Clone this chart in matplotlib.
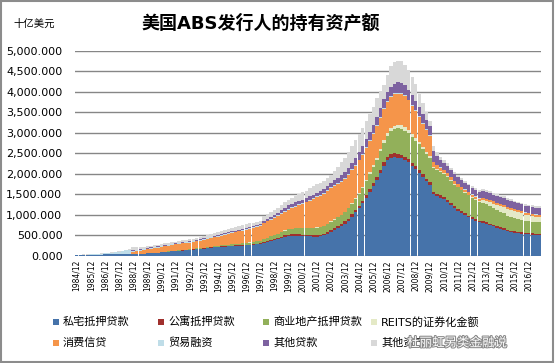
import numpy as np
import matplotlib
matplotlib.use('Agg')
import matplotlib.pyplot as plt
import matplotlib.patheffects as pe
from matplotlib.patches import Rectangle

plt.rcParams['font.family'] = ['DejaVu Sans', 'Noto Sans CJK SC']

# quarterly, 1984Q4 .. 2017Q3, 十亿美元
home = [25,
        26, 27, 28, 30,  31, 32, 33, 35,  35, 36, 36, 37,  38, 38, 39, 42,
        45, 50, 55, 60,  66, 72, 78, 85,  93, 102, 111, 120,  126, 132, 138, 144,
        150, 160, 170, 180,  190, 200, 210, 215,  220, 225, 230, 235,  240, 245, 250, 255,
        260, 270, 280, 290,  320, 345, 370, 390,  410, 440, 470, 490,  495, 495, 490, 485,
        480, 475, 470, 470,  480, 500, 540, 590,  630, 680, 730, 790,  860, 960, 1060, 1160,
        1280, 1420, 1560, 1700,  1850, 2020, 2200, 2330,  2400, 2420, 2400, 2380,
        2340, 2280, 2200, 2130,  2030, 1920, 1820, 1730,  1500, 1460, 1420, 1380,
        1320, 1240, 1160, 1100,  1040, 990, 940, 900,  860, 820, 800, 780,
        750, 720, 690, 660,  640, 600, 580, 565,  555, 545, 535, 525,  520, 515, 512]
multi = [0,
         0, 0, 0, 0,  0, 0, 0, 0,  0, 0, 0, 0,  0, 0, 0, 0,
         0, 0, 0, 0,  0, 0, 1, 1,  2, 3, 4, 5,  6, 6, 7, 8,
         8, 9, 9, 10,  10, 11, 11, 12,  13, 13, 14, 15,  16, 16, 17, 18,
         18, 19, 19, 20,  21, 22, 24, 25,  26, 27, 29, 30,  31, 32, 34, 35,
         36, 37, 39, 40,  41, 42, 44, 45,  46, 47, 49, 50,  52, 55, 57, 60,
         63, 66, 70, 73,  76, 78, 80, 80,  81, 82, 82, 80,
         79, 78, 76, 74,  72, 70, 68, 66,  60, 58, 56, 55,
         54, 52, 51, 50,  48, 47, 45, 44,  43, 42, 41, 40,
         39, 38, 37, 36,  35, 34, 33, 32,  31, 30, 29, 28,  28, 27, 27]
comm = [0,
        0, 0, 0, 0,  0, 0, 0, 0,  0, 0, 0, 0,  0, 0, 0, 0,
        0, 0, 0, 0,  0, 0, 1, 1,  2, 3, 4, 5,  6, 7, 9, 10,
        11, 12, 14, 15,  16, 17, 19, 20,  22, 25, 27, 30,  33, 37, 41, 45,
        49, 52, 56, 60,  68, 75, 83, 90,  100, 110, 120, 130,  138, 145, 152, 160,
        165, 170, 175, 180,  185, 190, 195, 200,  207, 215, 222, 230,  245, 262, 280, 300,
        320, 345, 370, 400,  420, 450, 485, 520,  560, 600, 630, 640,
        640, 630, 620, 610,  620, 610, 600, 600,  590, 580, 570, 560,
        550, 540, 530, 520,  510, 500, 490, 480,  470, 460, 450, 440,
        420, 400, 385, 370,  360, 350, 340, 330,  320, 310, 300, 295,  290, 285, 280]
reit = [0,
        0, 0, 0, 0,  0, 0, 0, 0,  0, 0, 0, 0,  0, 0, 0, 0,
        0, 0, 0, 0,  0, 0, 0, 0,  0, 0, 0, 0,  0, 0, 0, 0,
        0, 0, 0, 0,  1, 1, 2, 2,  2, 2, 3, 3,  3, 3, 3, 3,
        3, 3, 3, 3,  3, 3, 3, 3,  3, 3, 3, 3,  3, 3, 3, 3,
        4, 4, 5, 5,  6, 6, 7, 8,  8, 9, 9, 10,  12, 15, 18, 22,
        28, 33, 38, 42,  48, 55, 60, 65,  70, 75, 80, 85,
        80, 75, 70, 65,  60, 55, 50, 45,  30, 28, 26, 25,
        24, 23, 22, 22,  21, 20, 20, 20,  20, 25, 70, 80,
        100, 120, 130, 140,  150, 155, 160, 160,  155, 150, 145, 140,  135, 130, 125]
cons = [0,
        0, 0, 0, 0,  0, 0, 0, 0,  0, 0, 0, 0,  0, 0, 0, 65,
        70, 80, 90, 100,  108, 115, 122, 130,  135, 140, 145, 150,  154, 158, 161, 165,
        170, 175, 180, 185,  193, 202, 211, 220,  232, 245, 257, 270,  282, 295, 307, 320,
        327, 335, 342, 350,  380, 395, 408, 420,  432, 445, 457, 470,  500, 530, 560, 590,
        620, 660, 700, 740,  760, 780, 800, 810,  810, 810, 800, 800,  800, 800, 790, 790,
        780, 780, 770, 770,  770, 770, 770, 770,  770, 770, 770, 770,
        760, 730, 690, 650,  610, 570, 530, 490,  110, 90, 80, 70,
        70, 68, 65, 62,  60, 58, 56, 54,  52, 50, 50, 50,
        50, 50, 50, 50,  50, 50, 50, 50,  50, 50, 50, 50,  50, 50, 50]
trade = [0,
         0, 2, 3, 5,  8, 12, 18, 25,  35, 45, 58, 70,  82, 95, 108, 25,
         22, 20, 20, 20,  20, 20, 20, 20,  20, 20, 20, 20,  20, 20, 20, 20,
         20, 20, 20, 20,  20, 20, 20, 20,  20, 20, 20, 20,  20, 20, 20, 20,
         20, 20, 20, 20,  20, 20, 20, 20,  20, 20, 20, 20,  20, 20, 20, 20,
         20, 20, 20, 20,  20, 20, 20, 20,  20, 20, 20, 20,  20, 20, 20, 20,
         20, 20, 20, 20,  20, 20, 20, 20,  20, 20, 20, 20,
         20, 20, 20, 20,  20, 20, 20, 20,  10, 10, 10, 10,
         10, 10, 10, 10,  10, 10, 10, 10,  10, 10, 10, 10,
         10, 10, 10, 10,  10, 10, 10, 10,  10, 10, 10, 10,  10, 10, 10]
other_loans = [0,
               0, 0, 0, 0,  0, 0, 0, 0,  0, 0, 0, 0,  0, 0, 0, 10,
               10, 12, 14, 15,  12, 10, 10, 10,  10, 10, 10, 10,  11, 11, 12, 12,
               13, 14, 14, 15,  16, 17, 19, 20,  21, 22, 24, 25,  26, 27, 29, 30,
               30, 30, 30, 30,  40, 45, 48, 50,  60, 70, 80, 90,  85, 82, 80, 80,
               82, 85, 88, 90,  95, 100, 105, 110,  120, 130, 140, 150,  158, 165, 172, 180,
               185, 190, 195, 200,  205, 210, 215, 220,  230, 240, 250, 250,
               250, 245, 240, 235,  230, 225, 220, 215,  260, 200, 180, 170,
               170, 165, 165, 165,  162, 160, 160, 160,  160, 160, 160, 160,
               160, 160, 160, 160,  160, 160, 160, 160,  160, 160, 160, 160,  160, 160, 160]
other_assets = [8,
                8, 8, 9, 9,  9, 10, 10, 10,  10, 10, 10, 10,  10, 10, 10, 70,
                65, 55, 50, 45,  45, 45, 42, 42,  42, 40, 40, 40,  42, 44, 46, 48,
                50, 52, 55, 58,  60, 62, 64, 66,  68, 70, 72, 74,  76, 78, 80, 82,
                84, 86, 88, 90,  115, 118, 120, 122,  125, 128, 130, 135,  145, 155, 165, 175,
                185, 195, 200, 205,  200, 195, 190, 200,  230, 270, 310, 350,  380, 400, 420, 440,
                440, 440, 430, 440,  470, 420, 350, 420,  500, 530, 530, 520,
                500, 470, 440, 400,  320, 260, 200, 120,  120, 100, 80, 70,
                60, 55, 50, 45,  45, 45, 45, 45,  45, 45, 45, 45,
                45, 45, 45, 45,  45, 45, 45, 45,  45, 45, 45, 45,  45, 45, 45]

labels = ['私宅抵押贷款', '公寓抵押贷款', '商业地产抵押贷款', 'REITS的证券化金额',
          '消费信贷', '贸易融资', '其他贷款', '其他资产']
series = [home, multi, comm, reit, cons, trade, other_loans, other_assets]
colors = ['#4673AA', '#A0302D', '#92B05A', '#E4E9C6',
          '#F5954A', '#BFDDE8', '#7D62A0', '#D8D8D8']

years = list(range(1984, 2017))
tick_labels = ['%d/12' % y for y in years]

W, H = 555, 363
fig = plt.figure(figsize=(W / 100, H / 100), dpi=100)
ax = fig.add_axes([0.135, 0.295, 0.84, 0.5645])

x = np.arange(len(home))
bottom = np.zeros(len(home))
for vals, c, lab in zip(series, colors, labels):
    vals = np.array(vals, dtype=float)
    ax.bar(x, vals, bottom=bottom, width=0.97, color=c, label=lab, linewidth=0)
    bottom += vals

ax.set_xlim(-0.5, len(home) - 0.5)
ax.set_ylim(0, 5000)
ax.set_yticks(np.arange(0, 5001, 500))
ax.set_yticklabels(['{:,.3f}'.format(v) for v in np.arange(0, 5001, 500)], fontsize=8)
ax.set_xticks(np.arange(0, len(home), 4))
ax.set_xticklabels(tick_labels, rotation=90, fontsize=5.5)
ax.tick_params(length=0, pad=3)
ax.tick_params(axis='y', pad=9)
ax.yaxis.grid(True, color='#868686', linewidth=1)
ax.set_axisbelow(True)
for s in ax.spines.values():
    s.set_visible(False)

fig.text(0.47, 0.935, '美国ABS发行人的持有资产额', ha='center', va='center',
         fontsize=13, fontweight='bold')
fig.text(0.025, 0.935, '十亿美元', ha='left', va='center', fontsize=7.5)

# legend, laid out in rows like the original (4 per row)
col_x = [53, 158, 263, 371]
row_y = [322, 343]
for i, (lab, c) in enumerate(zip(labels, colors)):
    px = col_x[i % 4]
    py = row_y[i // 4]
    fig.add_artist(Rectangle((px / W, 1 - (py + 3) / H), 6 / W, 6 / H,
                             transform=fig.transFigure, facecolor=c, edgecolor='none'))
    fig.text((px + 10) / W, 1 - py / H, lab, ha='left', va='center', fontsize=8)

fig.text(507 / W, 1 - 343 / H, '杜丽虹另类金融说', ha='right', va='center', fontsize=9,
         color='white', path_effects=[pe.withStroke(linewidth=1.5, foreground='#888888')])

fig.add_artist(Rectangle((0.002, 0.003), 0.995, 0.994, transform=fig.transFigure,
                         fill=False, edgecolor='#8c8c8c', linewidth=1.5))

fig.savefig('out.png', dpi=100)
